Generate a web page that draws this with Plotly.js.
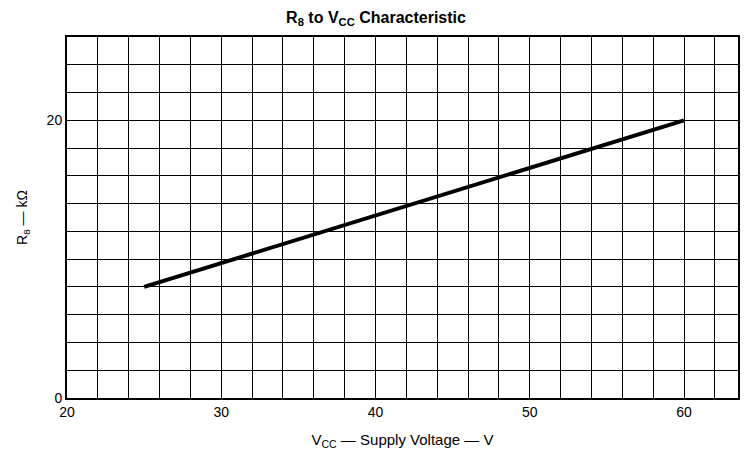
<!DOCTYPE html>
<html>
<head>
<meta charset="utf-8">
<script src="https://cdn.plot.ly/plotly-3.0.1.min.js"></script>
<style>html,body{margin:0;padding:0;background:#fff;}#chart{width:752px;height:459px;}</style>
</head>
<body>
<div id="chart"></div>
<script>
// Data
const vccSupply = [25, 60];        // V
const r8Values = [8, 20];          // kΩ
const xTickVals = [20, 30, 40, 50, 60];
const xTickText = ['20', '30', '40', '50', '60'];
const yTickVals = [0, 20];
const yTickText = ['0', '20'];

const font = 'Liberation Sans, Arial, sans-serif';

const trace = {
  x: vccSupply,
  y: r8Values,
  type: 'scatter',
  mode: 'lines',
  line: {color: '#000', width: 4},
  hoverinfo: 'skip',
  showlegend: false
};

const layout = {
  width: 752,
  height: 459,
  margin: {l: 67, r: 14, t: 37, b: 61},
  paper_bgcolor: '#fff',
  plot_bgcolor: '#fff',
  font: {family: font, color: '#000', size: 14},
  title: {
    text: 'R<sub>8</sub> to V<sub>CC</sub> Characteristic',
    font: {family: font, size: 16, color: '#000', weight: 'bold'},
    x: 0.5, xanchor: 'center', y: 0.962, yanchor: 'middle'
  },
  xaxis: {
    range: [20, 63.5],
    tickvals: xTickVals,
    ticktext: xTickText,
    ticks: '',
    showgrid: true,
    gridcolor: '#000',
    gridwidth: 1,
    minor: {dtick: 2, tick0: 20, showgrid: true, gridcolor: '#000', gridwidth: 1},
    showline: true, linecolor: '#000', linewidth: 2, mirror: true,
    zeroline: false,
    tickfont: {family: font, size: 14, color: '#000'},
    title: {text: 'V<sub>CC</sub> — Supply Voltage — V', font: {family: 'Liberation Sans Narrow, ' + font, size: 15, color: '#000'}, standoff: 16}
  },
  yaxis: {
    range: [0, 26],
    tickvals: yTickVals,
    ticktext: yTickText,
    ticks: '',
    showgrid: true,
    gridcolor: '#000',
    gridwidth: 1,
    minor: {dtick: 2, tick0: 0, showgrid: true, gridcolor: '#000', gridwidth: 1},
    showline: true, linecolor: '#000', linewidth: 2, mirror: true,
    zeroline: false,
    tickfont: {family: font, size: 14, color: '#000'},
    title: {text: 'R<sub>8</sub> — kΩ', font: {family: font, size: 14, color: '#000'}, standoff: 16}
  }
};

Plotly.newPlot('chart', [trace], layout, {displayModeBar: false, staticPlot: true});
</script>
</body>
</html>
